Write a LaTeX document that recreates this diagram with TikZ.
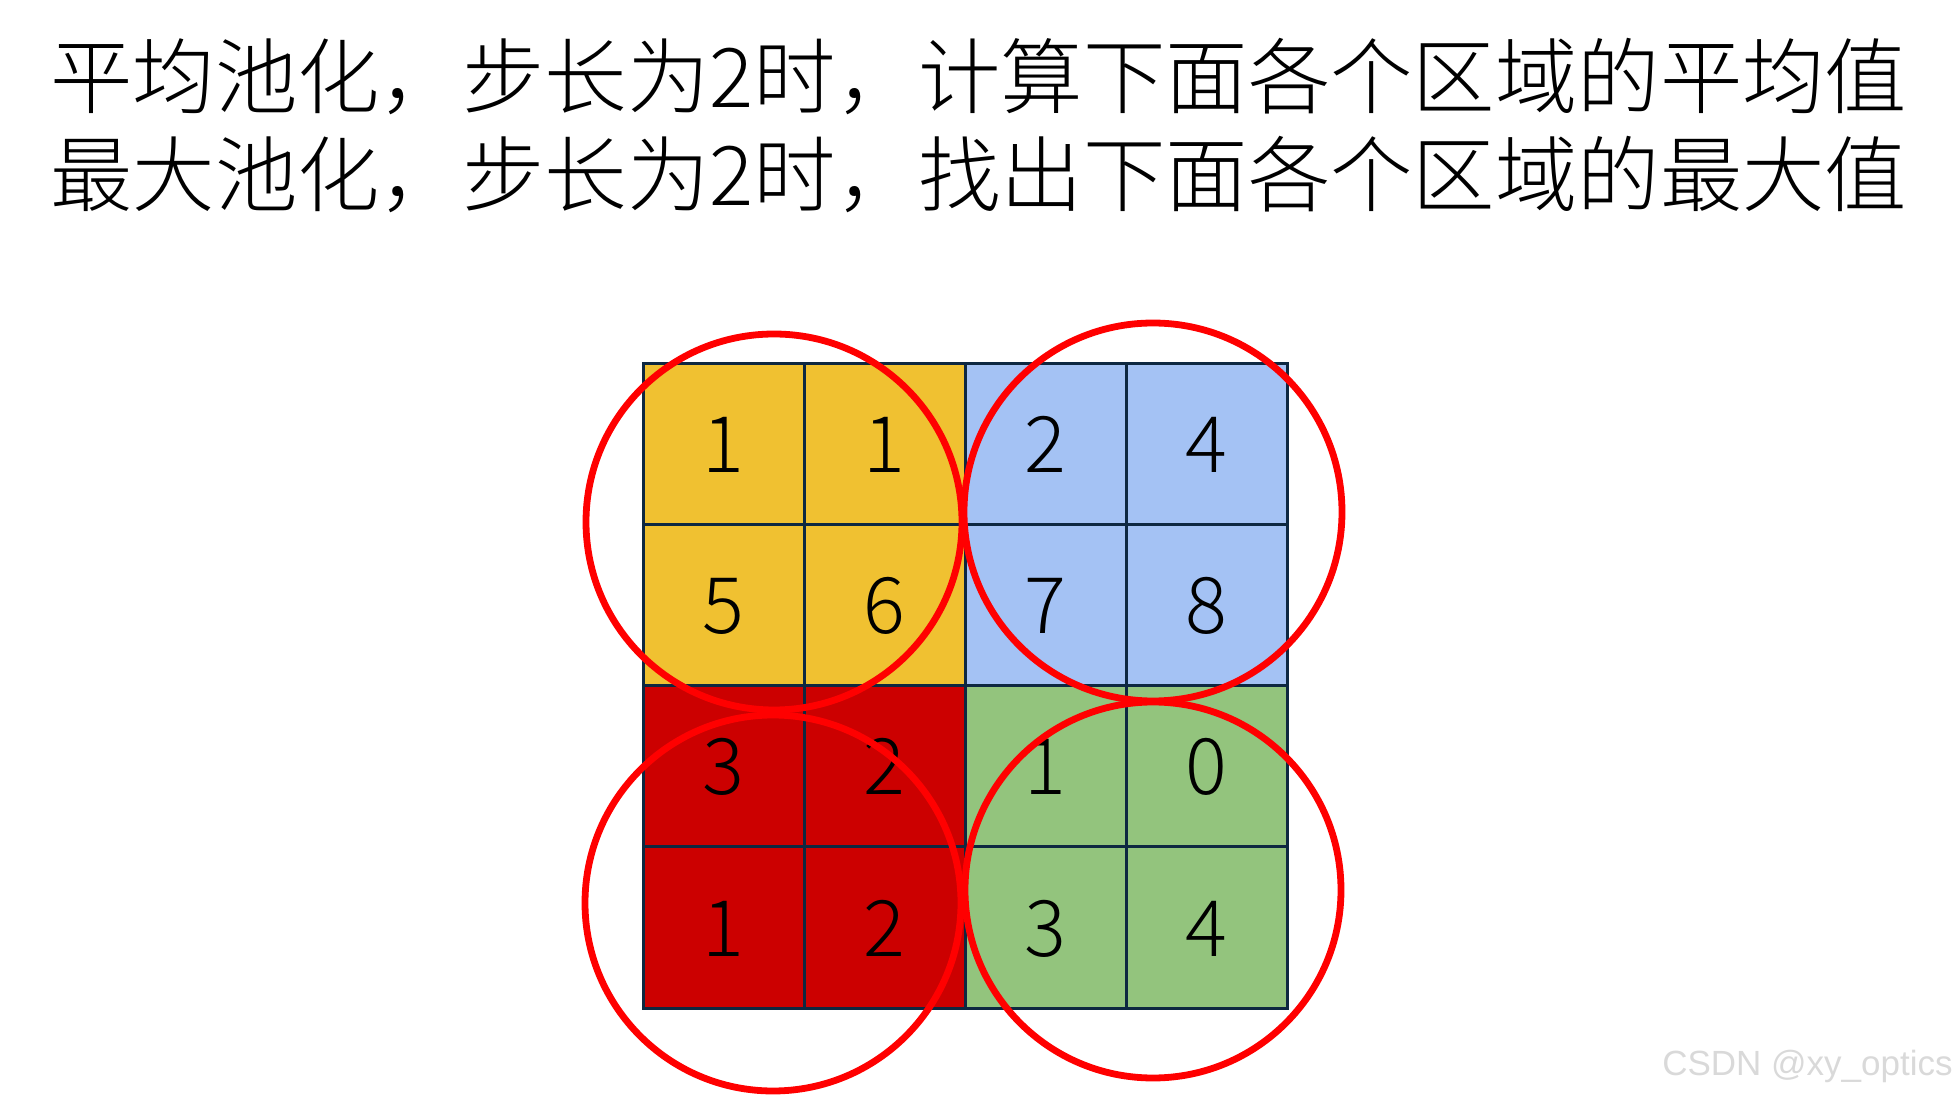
\documentclass[tikz,border=0pt]{standalone}
\usepackage{fontspec}
\setmainfont{Noto Sans CJK SC}[UprightFont={* Light}]
\newfontfamily\wmfont{Liberation Sans}
\usepackage{xcolor}
\usepackage{tikz}

\definecolor{poolyellow}{HTML}{F0C131}
\definecolor{poolblue}{HTML}{A4C2F4}
\definecolor{poolred}{HTML}{CC0000}
\definecolor{poolgreen}{HTML}{93C47D}
\definecolor{gridline}{HTML}{0E2841}
\definecolor{ringred}{HTML}{FF0000}

\begin{document}
\begin{tikzpicture}[x=0.5pt,y=-0.5pt,
  cell/.style={draw=gridline, line width=1.5pt, minimum size=80.5pt, inner sep=0pt,
    font=\fontsize{39pt}{39pt}\selectfont, text height=28.5pt, text depth=0pt},
  title/.style={anchor=base west, inner sep=0pt, font=\fontsize{41.2pt}{41.2pt}\selectfont},
  ring/.style={draw=ringred, line width=3.4pt}]
  \useasboundingbox (0,0) rectangle (1960,1095);

  % Title lines
  \node[title] (line1) at (50,108) {平均池化，步长为2时，计算下面各个区域的平均值};
  \node[title] (line2) at (50,206) {最大池化，步长为2时，找出下面各个区域的最大值};

  % 4x4 input grid
  \foreach \row/\col/\val/\clr in {
      1/1/1/poolyellow, 1/2/1/poolyellow, 1/3/2/poolblue,  1/4/4/poolblue,
      2/1/5/poolyellow, 2/2/6/poolyellow, 2/3/7/poolblue,  2/4/8/poolblue,
      3/1/3/poolred,    3/2/2/poolred,    3/3/1/poolgreen, 3/4/0/poolgreen,
      4/1/1/poolred,    4/2/2/poolred,    4/3/3/poolgreen, 4/4/4/poolgreen}
    \node[cell, fill=\clr] (c\row\col) at ({643+161*(\col-0.5)},{364+161*(\row-0.5)}) {\val};

  % Pooling windows
  \draw[ring] (774,522) circle[radius=94pt];
  \draw[ring] (1153,512) circle[radius=94.5pt];
  \draw[ring] (773,903) circle[radius=94pt];
  \draw[ring] (1153,890) circle[radius=94pt];

  % Watermark
  \node[anchor=base east, inner sep=0pt, text=gray!30, font=\wmfont\fontsize{17.5pt}{17.5pt}\selectfont]
    (mark) at (1953,1075) {CSDN @xy\_optics};
\end{tikzpicture}
\end{document}
